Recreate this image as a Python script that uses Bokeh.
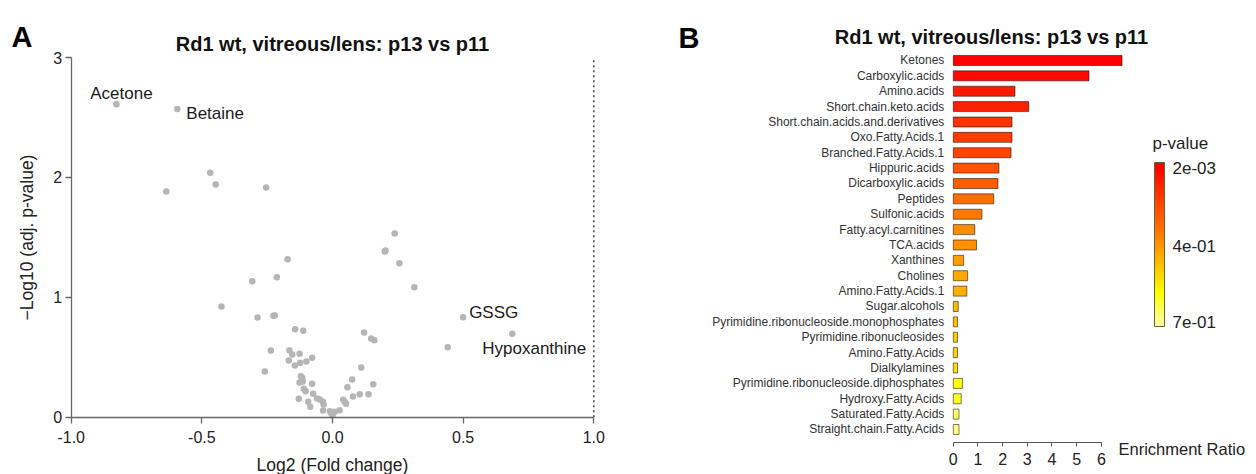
import numpy as np
from bokeh.plotting import figure
from bokeh.layouts import row
from bokeh.models import (Range1d, FixedTicker, NumeralTickFormatter, Label, AllLabels,
                          ColorBar, LinearColorMapper, ColumnDataSource)
from bokeh.transform import transform
from bokeh.core.properties import value
from bokeh.embed import file_html
from bokeh.resources import INLINE

FONT = "Liberation Sans"

# ---------------- Panel A data (volcano plot) ----------------
title_text = "Rd1 wt, vitreous/lens: p13 vs p11"
log2_fc = [-0.827, -0.594, 0.500, 0.688, -0.468, -0.447, -0.636, -0.254, 0.238, 0.200,
           0.203, 0.256, 0.313, -0.172, -0.307, -0.213, -0.425, -0.287, -0.226, -0.221,
           0.441, -0.143, -0.112, 0.121, 0.148, 0.160, -0.236, -0.165, -0.154, -0.126,
           -0.167, -0.144, -0.124, -0.100, -0.078, -0.259, 0.110, 0.075, 0.057, 0.156,
           -0.121, -0.116, -0.126, -0.114, -0.078, -0.110, -0.103, -0.129, -0.074, -0.093,
           -0.085, -0.059, -0.049, -0.037, -0.034, -0.036, -0.010, -0.004, 0.003, 0.009,
           0.027, 0.041, 0.046, 0.052, 0.078, 0.104, 0.138, 0.000]
neg_log10_p = [2.61, 2.57, 0.834, 0.696, 2.038, 1.941, 1.882, 1.916, 1.532, 1.382,
               1.39, 1.284, 1.084, 1.318, 1.134, 1.168, 0.923, 0.832, 0.846, 0.848,
               0.584, 0.734, 0.721, 0.706, 0.656, 0.642, 0.556, 0.559, 0.523, 0.529,
               0.473, 0.431, 0.454, 0.465, 0.495, 0.381, 0.415, 0.314, 0.250, 0.275,
               0.342, 0.329, 0.289, 0.298, 0.279, 0.237, 0.217, 0.153, 0.195, 0.128,
               0.087, 0.156, 0.148, 0.128, 0.106, 0.056, 0.050, 0.028, 0.037, 0.045,
               0.058, 0.145, 0.128, 0.112, 0.173, 0.192, 0.192, 0.015]
label_names = ["Acetone", "Betaine", "GSSG", "Hypoxanthine"]
label_index = [0, 1, 2, 3]
x_ticks = [-1.0, -0.5, 0.0, 0.5, 1.0]
y_ticks = [0, 1, 2, 3]

# ---------------- Panel B data (enrichment) ----------------
categories = ["Ketones", "Carboxylic.acids", "Amino.acids", "Short.chain.keto.acids",
              "Short.chain.acids.and.derivatives", "Oxo.Fatty.Acids.1", "Branched.Fatty.Acids.1",
              "Hippuric.acids", "Dicarboxylic.acids", "Peptides", "Sulfonic.acids",
              "Fatty.acyl.carnitines", "TCA.acids", "Xanthines", "Cholines", "Amino.Fatty.Acids.1",
              "Sugar.alcohols", "Pyrimidine.ribonucleoside.monophosphates",
              "Pyrimidine.ribonucleosides", "Amino.Fatty.Acids", "Dialkylamines",
              "Pyrimidine.ribonucleoside.diphosphates", "Hydroxy.Fatty.Acids",
              "Saturated.Fatty.Acids", "Straight.chain.Fatty.Acids"]
enrichment = [6.84, 5.50, 2.50, 3.06, 2.38, 2.38, 2.34, 1.85, 1.81, 1.64, 1.16, 0.87, 0.94,
              0.42, 0.58, 0.55, 0.20, 0.17, 0.17, 0.17, 0.17, 0.37, 0.32, 0.23, 0.23]
p_values = [0.002, 0.024, 0.063, 0.079, 0.132, 0.156, 0.181, 0.229, 0.256, 0.304, 0.334,
            0.379, 0.389, 0.419, 0.433, 0.443, 0.460, 0.474, 0.496, 0.510, 0.527, 0.595,
            0.607, 0.659, 0.681]
cbar_tick_p = [0.002, 0.4, 0.7]
cbar_tick_labels = ["2e-03", "4e-01", "7e-01"]
er_ticks = [0, 1, 2, 3, 4, 5, 6]

W, H = 628, 474
LIFT = 5  # baseline correction (px) for free text

# =============== Panel A ===============
pA = figure(width=W, height=H, x_range=Range1d(-1.2706, 1.1328), y_range=Range1d(-0.4779, 3.4754),
            output_backend="svg", toolbar_location=None,
            min_border=0, min_border_left=0, min_border_right=0, min_border_top=0, min_border_bottom=0)
pA.outline_line_color = None
pA.grid.visible = False
pA.background_fill_color = None
pA.border_fill_color = None

pA.scatter(log2_fc, neg_log10_p, size=6.5, fill_color="#B5B5B5", line_color=None)

label_style = {
    "Acetone": dict(align="center", dx=5, dy=-6),
    "Betaine": dict(align="left", dx=9, dy=9),
    "GSSG": dict(align="left", dx=6, dy=0),
    "Hypoxanthine": dict(align="left", dx=-30, dy=20),
}
for name, i in zip(label_names, label_index):
    st = label_style[name]
    pA.text(x=[log2_fc[i]], y=[neg_log10_p[i]], text=[name], text_align=st["align"],
            text_baseline="alphabetic", x_offset=st["dx"], y_offset=st["dy"] - LIFT,
            text_font=value(FONT), text_font_size="17px", text_color="#1a1a1a")

# dotted reference line at the right end of the x axis
pA.segment(x0=[x_ticks[-1]], y0=[y_ticks[0]], x1=[x_ticks[-1]], y1=[y_ticks[-1]],
           line_dash="2 3", line_color="#444444", line_width=1.5)

for ax in (pA.xaxis[0], pA.yaxis[0]):
    ax.axis_line_color = "#666666"
    ax.axis_line_width = 1.3
    ax.major_tick_line_color = "#666666"
    ax.major_tick_line_width = 1.3
    ax.major_tick_in = 0
    ax.major_tick_out = 6
    ax.minor_tick_line_color = None
    ax.major_label_text_font = FONT
    ax.major_label_text_font_size = "16px"
    ax.major_label_text_color = "#222222"
    ax.axis_label_text_font = FONT
    ax.axis_label_text_font_size = "17.5px"
    ax.axis_label_text_font_style = "normal"
    ax.axis_label_text_color = "#222222"

xa = pA.xaxis[0]
xa.fixed_location = y_ticks[0]
xa.ticker = FixedTicker(ticks=x_ticks)
xa.formatter = NumeralTickFormatter(format="0.0")
xa.bounds = (x_ticks[0], x_ticks[-1])
xa.major_label_standoff = 8
xa.axis_label_standoff = 8
xa.axis_label = "Log2 (Fold change)"

ya = pA.yaxis[0]
ya.fixed_location = x_ticks[0]
ya.ticker = FixedTicker(ticks=y_ticks)
ya.formatter = NumeralTickFormatter(format="0")
ya.bounds = (y_ticks[0], y_ticks[-1])
ya.major_label_standoff = 3
ya.axis_label_standoff = 14
ya.axis_label = "\u2212Log10 (adj. p-value)"

pA.add_layout(Label(x=332, y=H - 48 + LIFT, x_units="screen", y_units="screen", text=title_text,
                    text_align="center", text_baseline="alphabetic", text_font=FONT,
                    text_font_size="20px", text_font_style="bold", text_color="#111111"))
pA.add_layout(Label(x=11, y=H - 41 + LIFT, x_units="screen", y_units="screen", text="A",
                    text_align="left", text_baseline="alphabetic", text_font=FONT,
                    text_font_size="29px", text_font_style="bold", text_color="#000000"))

# =============== Panel B ===============
cbar_pos = [966, 493, 26]  # label positions on the colour bar scale (0 bottom .. 1000 top)
stops_pos = [0, 50, 150, 200, 300, 400, 500, 600, 750, 900, 960, 1000]
stops_col = ["#FFFFA8", "#FFFF88", "#FFFF30", "#FFFF00", "#FFDC00", "#FFB800", "#FF9200",
             "#FF7000", "#FF4600", "#FF1800", "#FF0000", "#FF0000"]
rgb = np.array([[int(c[i:i + 2], 16) for i in (1, 3, 5)] for c in stops_col], dtype=float)
grid = np.linspace(0, 1000, 256)
palette = ["#%02x%02x%02x" % tuple(int(round(np.interp(g, stops_pos, rgb[:, k]))) for k in range(3))
           for g in grid]
mapper = LinearColorMapper(palette=palette, low=0, high=1000)

n = len(categories)
ypos = [n - 1 - i for i in range(n)]  # first category on top
src = ColumnDataSource(dict(cat=categories, y=ypos, er=enrichment, p=p_values,
                            pos=np.interp(p_values, cbar_tick_p, cbar_pos)))

pB = figure(width=W, height=H, x_range=Range1d(-13.166, 12.290), y_range=Range1d(-2.927, 27.902),
            output_backend="svg", toolbar_location=None,
            min_border=0, min_border_left=0, min_border_right=0, min_border_top=0, min_border_bottom=0)
pB.outline_line_color = None
pB.grid.visible = False
pB.background_fill_color = None
pB.border_fill_color = None

pB.hbar(y="y", left=0, right="er", height=0.65, source=src,
        fill_color=transform("pos", mapper), line_color="#000000", line_alpha=0.5, line_width=1)

bx = pB.xaxis[0]
bx.fixed_location = -0.865
bx.ticker = FixedTicker(ticks=er_ticks)
bx.bounds = (er_ticks[0], er_ticks[-1])
bx.axis_line_color = "#555555"
bx.major_tick_line_color = "#555555"
bx.major_tick_in = 0
bx.major_tick_out = 4
bx.minor_tick_line_color = None
bx.major_label_standoff = 6
bx.major_label_text_font = FONT
bx.major_label_text_font_size = "16px"
bx.major_label_text_color = "#222222"

by = pB.yaxis[0]
by.fixed_location = er_ticks[0]
by.ticker = FixedTicker(ticks=ypos)
by.major_label_overrides = {int(y): c for y, c in zip(ypos, categories)}
by.axis_line_color = None
by.major_tick_line_color = None
by.major_tick_in = 0
by.major_tick_out = 0
by.minor_tick_line_color = None
by.major_label_standoff = 9
by.major_label_text_font = FONT
by.major_label_text_font_size = "12px"
by.major_label_text_color = "#333333"

ticks_sorted = sorted(cbar_pos)
cb = ColorBar(color_mapper=mapper, ticker=FixedTicker(ticks=ticks_sorted),
              major_label_overrides=dict(zip(cbar_pos, cbar_tick_labels)),
              major_label_policy=AllLabels(),
              width=10, height=164, location=(526, 148), padding=0,
              bar_line_color="#666633", bar_line_width=1,
              major_tick_line_color=None, minor_tick_line_color=None,
              major_tick_in=0, major_tick_out=0,
              label_standoff=8, major_label_text_font=FONT, major_label_text_font_size="17px",
              major_label_text_color="#222222",
              background_fill_color=None, border_line_color=None)
pB.add_layout(cb)

pB.add_layout(Label(x=524, y=H - 147.5 + LIFT, x_units="screen", y_units="screen", text="p-value",
                    text_align="left", text_baseline="alphabetic", text_font=FONT,
                    text_font_size="17px", text_font_style="normal", text_color="#222222"))
pB.add_layout(Label(x=363, y=H - 41 + LIFT, x_units="screen", y_units="screen", text=title_text,
                    text_align="center", text_baseline="alphabetic", text_font=FONT,
                    text_font_size="20px", text_font_style="bold", text_color="#111111"))
pB.add_layout(Label(x=50, y=H - 42 + LIFT, x_units="screen", y_units="screen", text="B",
                    text_align="left", text_baseline="alphabetic", text_font=FONT,
                    text_font_size="29px", text_font_style="bold", text_color="#000000"))
pB.add_layout(Label(x=490, y=H - 453 + LIFT, x_units="screen", y_units="screen", text="Enrichment Ratio",
                    text_align="left", text_baseline="alphabetic", text_font=FONT,
                    text_font_size="16.5px", text_font_style="normal", text_color="#222222"))

layout = row(pA, pB)
open("out.html", "w").write(file_html(layout, INLINE))
